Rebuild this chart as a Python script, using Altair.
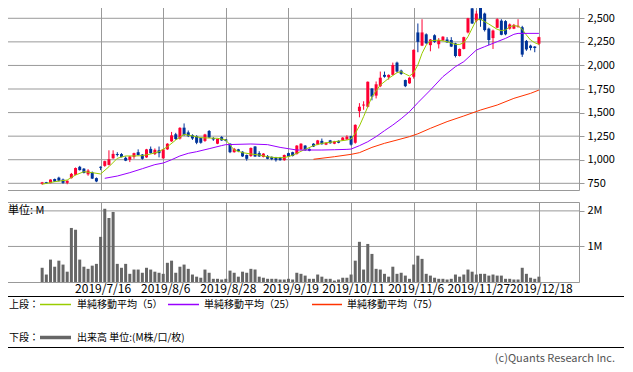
import altair as alt
import pandas as pd

# ---------------- data ----------------
day_index = list(range(120))
open_ = [745, 762, 752, 795, 810, 790, 755, 805, 840, 925,
         905, 845, 865, 805, 925, 935, 945, 1015, 1060, 1060,
         1020, 1000, 1030, 1080, 1055, 1025, 1115, 1060, 1100, 1015,
         1110, 1195, 1270, 1225, 1340, 1290, 1260, 1250, 1230, 1200,
         1305, 1230, 1170, 1240, 1215, 1170, 1080, 1110, 1085, 1050,
         1040, 1140, 1070, 1030, 1040, 1030, 1025, 1025, 995, 1070,
         1080, 1060, 1110, 1150, 1115, 1170, 1160, 1200, 1160, 1205,
         1170, 1200, 1205, 1215, 1250, 1180, 1515, 1575, 1562, 1755,
         1680, 1780, 1900, 1875, 1900, 2030, 1945, 1845, 1810, 1880,
         2350, 2210, 2330, 2215, 2320, 2225, 2265, 2275, 2270, 2234,
         2100, 2175, 2350, 2605, 2475, 2620, 2550, 2390, 2290, 2400,
         2475, 2470, 2390, 2390, 2410, 2405, 2260, 2210, 2200, 2230]
high = [765, 765, 792, 800, 820, 800, 780, 860, 918, 935,
        912, 900, 875, 812, 930, 990, 1100, 1100, 1080, 1070,
        1035, 1040, 1075, 1110, 1060, 1115, 1140, 1120, 1140, 1115,
        1175, 1295, 1285, 1345, 1385, 1310, 1270, 1260, 1235, 1275,
        1315, 1240, 1225, 1250, 1220, 1175, 1125, 1115, 1090, 1055,
        1130, 1145, 1090, 1070, 1050, 1035, 1030, 1030, 1055, 1075,
        1085, 1155, 1175, 1155, 1120, 1175, 1210, 1225, 1185, 1210,
        1200, 1205, 1240, 1260, 1255, 1375, 1600, 1620, 1830, 1760,
        1830, 1935, 1935, 1905, 2030, 2040, 1955, 1850, 1875, 2170,
        2445, 2490, 2340, 2280, 2330, 2290, 2310, 2300, 2300, 2240,
        2180, 2305, 2505, 2610, 2580, 2640, 2560, 2400, 2380, 2500,
        2490, 2480, 2445, 2440, 2490, 2420, 2270, 2220, 2205, 2305]
low = [735, 745, 750, 765, 770, 745, 740, 800, 835, 885,
       855, 830, 795, 762, 890, 925, 940, 1010, 1035, 1025,
       985, 975, 1010, 1045, 1000, 1020, 1065, 1050, 1025, 1010,
       1105, 1190, 1210, 1215, 1255, 1240, 1210, 1165, 1170, 1190,
       1230, 1200, 1165, 1200, 1195, 1070, 1075, 1080, 1030, 990,
       1030, 1030, 1030, 1025, 1005, 995, 980, 990, 990, 1030,
       1035, 1055, 1100, 1095, 1090, 1135, 1155, 1160, 1155, 1170,
       1165, 1175, 1200, 1210, 1150, 1170, 1450, 1530, 1555, 1630,
       1650, 1770, 1870, 1850, 1895, 1925, 1900, 1770, 1805, 1860,
       2140, 2205, 2225, 2150, 2240, 2180, 2260, 2240, 2195, 2085,
       2095, 2170, 2340, 2440, 2460, 2410, 2360, 2215, 2175, 2395,
       2320, 2320, 2380, 2385, 2400, 2090, 2155, 2160, 2140, 2215]
close = [760, 750, 790, 768, 778, 755, 778, 850, 912, 890,
         860, 885, 800, 770, 915, 985, 1005, 1062, 1050, 1030,
         990, 1035, 1070, 1050, 1010, 1110, 1070, 1105, 1070, 1110,
         1170, 1258, 1220, 1338, 1260, 1250, 1225, 1180, 1180, 1268,
         1235, 1215, 1220, 1205, 1200, 1080, 1115, 1090, 1035, 1010,
         1125, 1035, 1035, 1065, 1010, 1005, 995, 995, 1050, 1035,
         1040, 1150, 1170, 1100, 1095, 1140, 1205, 1165, 1180, 1175,
         1195, 1180, 1235, 1245, 1160, 1370, 1562, 1585, 1827, 1670,
         1800, 1870, 1880, 1900, 2005, 1935, 1910, 1780, 1870, 2165,
         2250, 2350, 2235, 2275, 2250, 2270, 2305, 2245, 2200, 2100,
         2175, 2300, 2500, 2445, 2550, 2480, 2375, 2270, 2370, 2490,
         2325, 2330, 2435, 2430, 2420, 2115, 2170, 2185, 2185, 2300]
volume_m = [0.40, 0.21, 0.63, 0.43, 0.60, 0.49, 0.29, 1.52, 1.47, 0.63,
            0.43, 0.37, 0.46, 0.51, 1.27, 2.06, 1.80, 1.97, 0.51, 0.40,
            0.51, 0.23, 0.35, 0.35, 0.26, 0.40, 0.35, 0.29, 0.26, 0.23,
            0.54, 0.60, 0.26, 0.43, 0.49, 0.37, 0.21, 0.15, 0.12, 0.35,
            0.26, 0.09, 0.09, 0.07, 0.09, 0.32, 0.26, 0.15, 0.29, 0.26,
            0.37, 0.35, 0.15, 0.12, 0.09, 0.09, 0.09, 0.07, 0.07, 0.09,
            0.07, 0.26, 0.23, 0.18, 0.09, 0.09, 0.21, 0.15, 0.09, 0.09,
            0.04, 0.07, 0.12, 0.12, 0.21, 0.60, 1.13, 0.35, 1.07, 0.79,
            0.37, 0.35, 0.23, 0.15, 0.43, 0.23, 0.26, 0.18, 0.09, 0.49,
            0.74, 0.65, 0.23, 0.18, 0.12, 0.09, 0.09, 0.07, 0.09, 0.21,
            0.15, 0.21, 0.35, 0.29, 0.21, 0.23, 0.23, 0.18, 0.21, 0.18,
            0.18, 0.09, 0.09, 0.07, 0.07, 0.40, 0.23, 0.12, 0.09, 0.15]

ma5_idx = [0, 3, 6, 8, 10, 12, 14, 16, 18, 20, 22, 24, 26, 28, 30, 32, 34, 36, 38, 40,
           42, 44, 46, 48, 50, 52, 54, 56, 58, 60, 61, 63, 65, 67, 70, 73, 74, 75, 76, 77,
           78, 79, 81, 83, 85, 86, 87, 88, 89, 90, 91, 92, 93, 95, 97, 99, 100, 101, 102, 103,
           104, 105, 106, 107, 108, 109, 110, 111, 112, 113, 114, 115, 116, 117, 118, 119]
ma5_val = [740, 767, 785, 838, 873, 863, 849, 926, 1015, 1040, 1040, 1043, 1061, 1085, 1138, 1209, 1269, 1252, 1234, 1230,
           1227, 1210, 1103, 1075, 1061, 1050, 1032, 1022, 1022, 1047, 1068, 1110, 1149, 1174, 1191, 1209, 1220, 1280, 1358, 1457,
           1562, 1669, 1792, 1863, 1923, 1934, 1909, 1888, 1923, 2005, 2128, 2216, 2262, 2269, 2252, 2223, 2223, 2241, 2305, 2393,
           2481, 2492, 2464, 2439, 2411, 2383, 2369, 2376, 2411, 2421, 2418, 2383, 2323, 2269, 2241, 2223]
ma25_idx = [15, 18, 21, 24, 27, 29, 31, 33, 35, 37, 40, 43, 44, 50, 54, 57, 59, 61, 64, 67,
            70, 73, 74, 76, 78, 80, 82, 84, 86, 88, 90, 93, 96, 99, 101, 104, 106, 109, 111, 113,
            114, 119]
ma25_val = [803, 827, 863, 905, 948, 965, 1000, 1040, 1068, 1085, 1117, 1150, 1160, 1167, 1160, 1131, 1117, 1103, 1103, 1103,
            1106, 1110, 1113, 1149, 1191, 1245, 1308, 1368, 1435, 1510, 1605, 1739, 1881, 1987, 2040, 2163, 2199, 2252, 2287, 2330,
            2340, 2340]
ma75_idx = [65, 70, 74, 76, 79, 82, 85, 88, 90, 93, 97, 101, 105, 109, 113, 117, 119]
ma75_val = [1005, 1032, 1057, 1075, 1131, 1174, 1209, 1245, 1275, 1333, 1404, 1464, 1527, 1580, 1651, 1704, 1739]

tick_idx = [14, 29, 44, 59, 74, 89, 104, 119]
tick_labels = ["2019/7/16", "2019/8/6", "2019/8/28", "2019/9/19",
               "2019/10/11", "2019/11/6", "2019/11/27", "2019/12/18"]
price_ticks = [750, 1000, 1250, 1500, 1750, 2000, 2250, 2500]
vol_ticks = [1, 2]

legend_names = ["単純移動平均（5）", "単純移動平均（25）", "単純移動平均（75）"]
legend_colors = ["#99cc00", "#9900ff", "#ff3300"]
UP, DOWN, GRID, FONT = "#ff0033", "#003399", "#999999", "Noto Sans CJK JP"

# ---------------- frames ----------------
df = pd.DataFrame({"i": day_index, "open": open_, "high": high, "low": low,
                   "close": close, "vol": volume_m})
df["dir"] = ["up" if c >= o else "down" for o, c in zip(open_, close)]
ma5 = pd.DataFrame({"i": ma5_idx, "v": ma5_val})
ma25 = pd.DataFrame({"i": ma25_idx, "v": ma25_val})
ma75 = pd.DataFrame({"i": ma75_idx, "v": ma75_val})
pgrid = pd.DataFrame({"p": price_ticks})
vgrid = pd.DataFrame({"p": vol_ticks})
one = pd.DataFrame({"k": [0]})

xscale = alt.Scale(domain=[-8.9, 127.4], nice=False, zero=False)
lab_expr = "[" + ",".join("'%s'" % s for s in tick_labels) + "][indexof([" + \
    ",".join(str(v) for v in tick_idx) + "], datum.value)]"

x_top = alt.X("i:Q", scale=xscale, title=None,
              axis=alt.Axis(values=tick_idx, labels=False, ticks=False, domain=False,
                            grid=True))
pscale = alt.Scale(domain=[679, 2694], nice=False, zero=False)
y_price_axis = alt.Axis(orient="right", values=price_ticks,
                        labelExpr="format(datum.value, ',d')",
                        grid=False, tickSize=5, domain=False, labelPadding=3, title=None,
                        labelOverlap=False)
color = alt.Color("dir:N", scale=alt.Scale(domain=["up", "down"], range=[UP, DOWN]), legend=None)


def py(field):
    return alt.Y(field, scale=pscale, axis=y_price_axis, title=None)


hgrid = alt.Chart(pgrid).mark_rule(color=GRID, strokeWidth=1).encode(y=py("p:Q"))
wick = alt.Chart(df).mark_rule(strokeWidth=1).encode(
    x=x_top, y=py("low:Q"), y2="high:Q", color=color)
body = alt.Chart(df).mark_bar(size=3).encode(
    x=x_top, y=py("open:Q"), y2="close:Q", color=color)


def ma_line(frame, col):
    return alt.Chart(frame).mark_line(strokeWidth=1, color=col, interpolate="linear").encode(
        x=x_top, y=py("v:Q"))


top = alt.layer(hgrid, wick, body, ma_line(ma5, legend_colors[0]), ma_line(ma25, legend_colors[1]),
                ma_line(ma75, legend_colors[2])).properties(width=579, height=190)

x_vol = alt.X("i:Q", scale=xscale, title=None,
              axis=alt.Axis(values=tick_idx, labelExpr=lab_expr, ticks=False, domain=False,
                            grid=True, labelPadding=1, labelOffset=2, labelFontSize=12,
                            labelOverlap=False, labelFlush=False))
vscale = alt.Scale(domain=[0, 2.25], nice=False)
y_vol_axis = alt.Axis(orient="right", values=vol_ticks, labelExpr="datum.value + 'M'",
                      grid=False, tickSize=5, domain=False, labelPadding=3, title=None,
                      labelOverlap=False)


def vy(field):
    return alt.Y(field, scale=vscale, axis=y_vol_axis, title=None)


vhgrid = alt.Chart(vgrid).mark_rule(color=GRID, strokeWidth=1).encode(y=vy("p:Q"))
vbars = alt.Chart(df).mark_bar(size=3, color="#666666").encode(x=x_vol, y=vy("vol:Q"))


def txt(s, x, y, size=10, align="left", col="#000000"):
    return alt.Chart(one).mark_text(align=align, baseline="middle", fontSize=size,
                                    font=FONT, color=col).encode(
        x=alt.value(x), y=alt.value(y), text=alt.value(s))


def seg(x1, x2, y, col, w=1.5):
    return alt.Chart(one).mark_rule(color=col, strokeWidth=w).encode(
        x=alt.value(x1), x2=alt.value(x2), y=alt.value(y))


box = alt.Chart(one).mark_rect(fillOpacity=0, stroke="#000000", strokeWidth=1).encode(
    x=alt.value(0.5), x2=alt.value(632), y=alt.value(94.5), y2=alt.value(145.5))

deco = [
    txt("単位: M", 8, 9, size=11),
    box,
    txt("上段：", 9, 102.5),
    seg(40, 71, 102.5, legend_colors[0]), txt(legend_names[0], 77, 102.5),
    seg(168, 199, 102.5, legend_colors[1]), txt(legend_names[1], 204, 102.5),
    seg(312, 342, 102.5, legend_colors[2]), txt(legend_names[2], 347, 102.5),
    txt("下段：", 9, 135.5),
    seg(40, 71, 135.5, "#666666", w=3.5), txt("出来高 単位:(M株/口/枚)", 77, 135.5),
    txt("(c)Quants Research Inc.", 615, 157, size=11, align="right", col="#555555"),
]

vol = alt.layer(vhgrid, vbars, *deco).properties(width=579, height=80)

chart = alt.vconcat(top, vol, spacing=10).properties(
    padding={"left": -9, "top": -9, "right": -9, "bottom": 0}
).configure_view(stroke=GRID, strokeWidth=1).configure_axis(
    gridColor=GRID, gridWidth=1, tickColor=GRID, labelColor="#000000",
    labelFont=FONT, labelFontSize=11
)

chart.save("out.html", embed_options={"renderer": "svg", "actions": False})
